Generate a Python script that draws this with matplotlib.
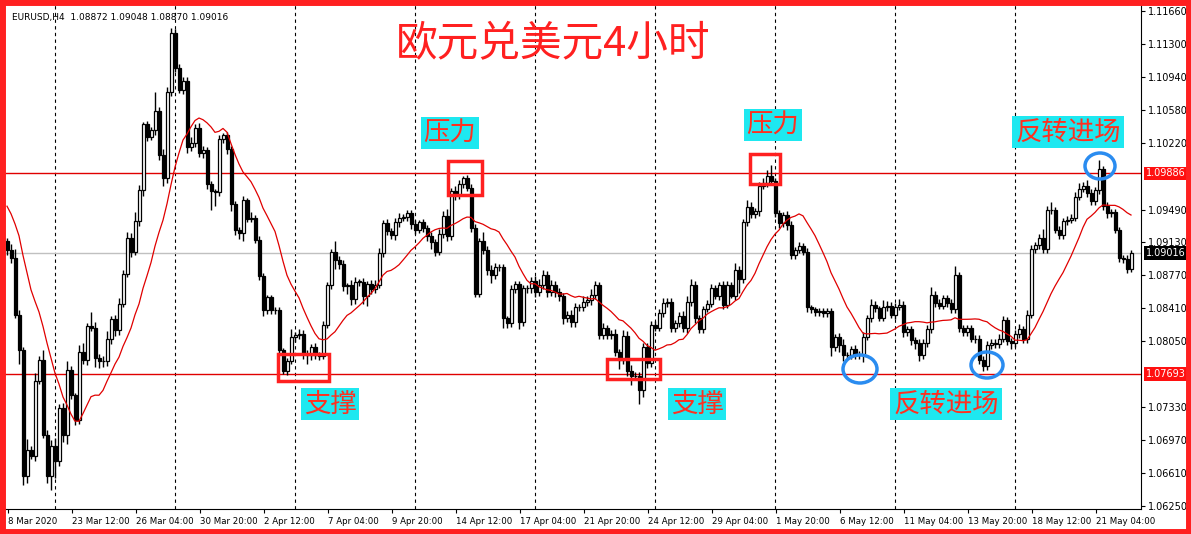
import matplotlib
matplotlib.use("Agg")
import matplotlib.pyplot as plt
import numpy as np
import pandas as pd
from matplotlib.patches import Rectangle, Ellipse

pre_closes = [1.1100,1.1090,1.1080,1.1060,1.1050,1.1040,1.1020,1.1000,1.0990,1.0980,
              1.0970,1.0960,1.0950,1.0960,1.0940,1.0930,1.0940,1.0920,1.0910,1.0915]

closes = [
1.0905,1.0896,1.0834,1.0795,1.0658,1.0686,1.0680,1.0762,1.0785,1.0703,
1.0658,1.0691,1.0674,1.0732,1.0703,1.0774,1.0746,1.0719,1.0793,1.0785,
1.0822,1.0820,1.0787,1.0784,1.0783,1.0808,1.0829,1.0817,1.0846,1.0879,
1.0918,1.0903,1.0936,1.0970,1.1042,1.1028,1.1036,1.1057,1.1009,1.0983,
1.1077,1.1142,1.1104,1.1080,1.1090,1.1017,1.1022,1.1038,1.1011,1.1014,
1.0977,1.0969,1.0968,1.1026,1.1030,1.1015,1.0955,1.0927,1.0923,1.0959,
1.0939,1.0940,1.0916,1.0876,1.0839,1.0853,1.0839,1.0839,1.0795,1.0773,
1.0784,
1.0810,1.0812,1.0813,1.0791,1.0790,1.0799,1.0790,1.0789,1.0823,1.0866,
1.0903,1.0894,1.0889,1.0865,1.0866,1.0851,1.0870,1.0870,1.0854,1.0868,
1.0862,1.0867,1.0901,1.0934,1.0926,1.0921,1.0935,1.0940,1.0941,1.0945,
1.0933,1.0927,1.0935,1.0929,1.0920,1.0914,1.0903,1.0922,1.0942,1.0920,
1.0969,1.0965,1.0977,1.0983,1.0973,1.0929,1.0857,1.0915,1.0905,1.0883,
1.0877,1.0886,1.0886,1.0830,1.0825,1.0862,1.0868,1.0826,1.0863,1.0863,
1.0871,1.0859,1.0867,1.0877,1.0859,1.0867,1.0859,1.0854,1.0830,1.0834,
1.0826,
1.0842,1.0842,1.0848,1.0850,1.0856,1.0866,1.0812,1.0820,1.0812,1.0813,
1.0793,1.0785,1.0811,1.0773,1.0767,1.0767,1.0752,1.0799,1.0781,1.0823,
1.0820,1.0836,1.0847,1.0848,1.0819,1.0825,1.0833,1.0819,1.0848,1.0867,
1.0830,1.0818,1.0840,1.0846,1.0863,1.0855,1.0867,1.0845,1.0867,1.0855,
1.0883,1.0873,1.0935,1.0952,1.0944,1.0947,1.0975,1.0978,1.0986,1.0980,
1.0945,1.0934,1.0943,1.0932,1.0899,1.0905,1.0909,1.0903,1.0842,1.0840,
1.0837,1.0838,1.0836,1.0838,1.0799,1.0810,1.0801,1.0790,1.0790,1.0797,
1.0790,
1.0790,1.0810,1.0830,1.0845,1.0841,1.0831,1.0842,1.0844,1.0834,1.0843,
1.0845,1.0815,1.0818,1.0806,1.0803,1.0790,1.0803,1.0818,1.0856,1.0847,
1.0844,1.0852,1.0847,1.0840,1.0877,1.0819,1.0815,1.0819,1.0808,1.0807,
1.0785,1.0778,1.0801,1.0803,1.0802,1.0808,1.0828,1.0805,1.0803,1.0813,
1.0818,1.0807,1.0834,1.0906,1.0910,1.0918,1.0906,1.0949,1.0948,1.0927,
1.0921,1.0936,1.0938,1.0940,1.0963,1.0972,1.0975,1.0967,1.0958,1.0970,
1.0993,1.0953,1.0945,1.0946,1.0927,1.0896,1.0895,1.0884,1.09016]

# wick sizes in pips (0.0001)
wick_up = [
3,6,10,5,4,12,5,8,4,10, 5,6,8,4,6,10,4,3,8,10, 3,15,6,4,5,8,4,5,6,4, 6,5,10,6,3,4,3,20,4,6,
6,5,4,4,4,4,6,4,6,4, 3,3,3,4,3,4,3,3,3,5, 3,6,3,4,4,3,3,3,3,3, 3,
8,3,5,4,5,3,4,3,4,4, 3,12,4,5,3,6,5,3,4,3, 4,5,6,4,5,3,5,5,3,3, 4,5,3,4,3,5,3,6,5,8,
4,6,4,3,4,4,4,3,10,4, 5,5,4,4,3,4,3,3,4,4, 4,5,6,6,5,5,4,4,4,4, 5,
5,4,6,4,6,5,4,5,3,4, 5,4,6,5,6,4,4,4,4,4, 4,4,5,4,4,3,4,5,6,6, 4,4,4,4,5,4,3,4,4,3,
8,4,4,8,5,4,4,5,6,12, 4,4,3,4,4,3,4,3,4,3, 3,3,3,3,3,3,4,6,3,3, 4,
4,5,4,6,4,3,8,5,4,4, 6,4,4,4,4,5,4,5,8,4, 4,4,4,4,10,4,4,4,4,4, 5,4,4,4,4,5,5,4,4,4,
6,4,5,4,4,4,10,4,8,4, 4,4,4,4,5,6,4,6,4,4, 10,4,4,4,4,3,3,4,3]
wick_dn = [
6,5,4,15,10,8,4,6,4,4, 8,15,18,5,8,10,4,6,4,5, 6,4,10,8,6,5,6,6,5,4, 4,6,4,5,6,4,3,5,6,8,
5,4,5,4,5,6,4,5,4,6, 6,20,15,4,4,5,8,6,6,8, 4,4,4,4,6,4,4,4,5,4, 5,
4,6,4,5,10,5,4,4,3,3, 4,10,5,5,8,6,5,5,8,10, 5,4,4,4,5,4,5,5,4,4, 5,5,4,4,5,8,5,4,4,5,
4,5,4,4,4,4,4,4,5,5, 8,4,4,10,6,4,4,8,4,5, 5,6,4,5,6,5,6,5,6,4, 5,
5,4,4,4,5,5,5,4,4,5, 4,10,5,6,10,4,15,8,5,4, 4,4,4,4,4,4,4,4,5,4, 5,4,4,3,4,4,5,5,4,3,
5,15,4,4,4,4,5,4,4,4, 4,5,4,5,4,4,4,4,5,4, 4,4,4,4,10,5,8,6,4,4, 4,
4,8,4,4,4,4,4,4,4,5, 4,5,4,5,6,6,4,4,4,4, 4,4,4,4,4,4,4,4,4,4, 5,6,4,4,4,4,4,4,6,4,
4,4,4,4,4,4,4,4,4,4, 4,4,4,4,4,4,4,4,4,4, 4,4,5,4,4,4,4,4,3]

tick_labels = ["8 Mar 2020","23 Mar 12:00","26 Mar 04:00","30 Mar 20:00","2 Apr 12:00",
               "7 Apr 04:00","9 Apr 20:00","14 Apr 12:00","17 Apr 04:00","21 Apr 20:00",
               "24 Apr 12:00","29 Apr 04:00","1 May 20:00","6 May 12:00","11 May 04:00",
               "13 May 20:00","18 May 12:00","21 May 04:00"]
price_ticks = [1.11660,1.11300,1.10940,1.10580,1.10220,1.09490,1.09130,1.08770,
               1.08410,1.08050,1.07330,1.06970,1.06610,1.06250]
resistance = 1.09886
support = 1.07693
last_price = 1.09016
ma_period = 15

n = len(closes)
def fit(lst):
    lst = list(lst)[:n]
    return lst + [3] * (n - len(lst))
wick_up = fit(wick_up); wick_dn = fit(wick_dn)

c = np.array(closes)
o = np.array([pre_closes[-1]] + closes[:-1])
hi = np.maximum(o, c) + np.array(wick_up) * 1e-4
lo = np.minimum(o, c) - np.array(wick_dn) * 1e-4
ma = pd.Series(pre_closes + closes).rolling(ma_period).mean().values[len(pre_closes):]
x = np.arange(n)

W, H = 1191, 534
fig = plt.figure(figsize=(W/100, H/100), dpi=100)
fig.patch.set_facecolor("white")
ax = fig.add_axes([5/W, 1 - 509/H, 1136/W, 504/H])
ax.set_xlim(-0.5, 283.5)
ax.set_ylim(1.06217, 1.11726)

for gx in range(12, n, 30):
    ax.axvline(gx, color="black", ls=(0, (3, 3)), lw=0.8, zorder=0)
ax.axhline(last_price, color="#c0c0c0", lw=1, zorder=0)
ax.axhline(resistance, color="#e00000", lw=1, zorder=1)
ax.axhline(support, color="#e00000", lw=1, zorder=1)

ax.vlines(x, lo, hi, color="black", lw=1, zorder=2)
bull = c >= o
body = np.maximum(np.abs(c - o), 0.00004)
ax.bar(x[bull], body[bull], bottom=o[bull], width=0.75, color="white",
       edgecolor="black", linewidth=0.9, zorder=3)
ax.bar(x[~bull], body[~bull], bottom=c[~bull], width=0.75, color="black",
       edgecolor="black", linewidth=0.9, zorder=3)
ax.plot(x, ma, color="#e00000", lw=0.9, zorder=4)

for s in ["top", "left"]:
    ax.spines[s].set_visible(False)
ax.yaxis.tick_right()
ax.set_yticks(price_ticks)
ax.set_yticklabels([f"{p:.5f}" for p in price_ticks], fontsize=7)
ax.tick_params(axis="y", length=3, pad=2)
xt = [0.25 + 16 * i for i in range(len(tick_labels))]
ax.set_xticks(xt)
ax.set_xticklabels(tick_labels, fontsize=6.2, ha="left")
ax.tick_params(axis="x", length=3, pad=3)

for val, bg in [(resistance, "#ff1010"), (support, "#ff1010"), (last_price, "black")]:
    ax.text(1.004, val, f"{val:.5f}", transform=ax.get_yaxis_transform(), fontsize=7,
            color="white", va="center", ha="left",
            bbox=dict(facecolor=bg, edgecolor="none", pad=1.2))

ax.text(0.006, 0.985, "EURUSD,H4  1.08872 1.09048 1.08870 1.09016", transform=ax.transAxes,
        fontsize=6.5, va="top", ha="left")

cjk = ["Noto Sans CJK SC", "DejaVu Sans"]
def px(xp, yp):
    return xp / W, 1 - yp / H
fig.text(*px(553, 45), "欧元兑美元4小时", family=cjk, fontsize=30, color="#ff2020",
         ha="center", va="center")
for (xp, yp, t) in [(450, 133, "压力"), (773, 125, "压力"), (330, 404, "支撑"),
                    (697, 404, "支撑"), (946, 404, "反转进场"), (1068, 132, "反转进场")]:
    fig.text(*px(xp, yp), t, family=cjk, fontsize=19, color="#ff3020", ha="center",
             va="center", bbox=dict(facecolor="#1ee8f0", edgecolor="none", pad=2))

for (x0, y0, x1, y1) in [(278, 354, 329, 381), (448, 161, 482, 195),
                         (607, 359, 660, 379), (750, 154, 780, 184)]:
    fig.add_artist(Rectangle(px(x0, y1), (x1 - x0) / W, (y1 - y0) / H, fill=False,
                             edgecolor="#ff2020", lw=2.5, transform=fig.transFigure))
for (cx, cy, w, h) in [(860, 369, 34, 28), (987, 365, 32, 26), (1100, 166, 30, 26)]:
    fig.add_artist(Ellipse(px(cx, cy), w / W, h / H, fill=False, edgecolor="#2a8cf0",
                           lw=2.5, transform=fig.transFigure))

fig.add_artist(Rectangle((0.002, 0.004), 0.996, 0.992, fill=False, edgecolor="#ff2020",
                         lw=5, transform=fig.transFigure))
fig.savefig("out.png", dpi=100)
